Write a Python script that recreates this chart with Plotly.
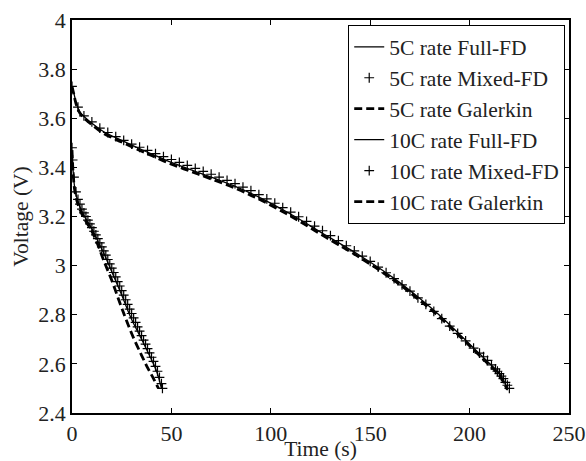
import plotly.graph_objects as go

# ---- 5C rate ----
t5_full = [0, 1, 2, 4, 7, 10, 16, 25, 33, 40, 50, 60, 70, 83, 95, 111, 128, 145, 162, 175, 185, 195, 202, 209, 215, 219]
v5_full = [3.73, 3.70, 3.665, 3.625, 3.60, 3.58, 3.545, 3.51, 3.48, 3.455, 3.42, 3.39, 3.36, 3.32, 3.275, 3.205, 3.122, 3.04, 2.948, 2.866, 2.797, 2.72, 2.665, 2.61, 2.56, 2.50]

t5_mixed = [0, 3, 6, 10, 14, 18, 22, 26, 30, 34, 38, 42, 46, 50, 54, 58, 62, 66, 70, 74, 78, 82, 86, 90, 94, 98,
            102, 106, 110, 114, 118, 122, 126, 130, 134, 138, 142, 146, 150, 154, 158, 162, 166, 170, 174, 178,
            182, 186, 190, 194, 198, 202, 205, 207, 209, 211, 213, 214, 215, 216, 217, 218, 219, 220]
v5_mixed = [3.73, 3.645, 3.61, 3.585, 3.56, 3.542, 3.525, 3.51, 3.495, 3.482, 3.469, 3.456, 3.444, 3.432, 3.42, 3.408,
            3.396, 3.384, 3.372, 3.36, 3.347, 3.334, 3.32, 3.305, 3.289, 3.272, 3.254, 3.236, 3.218, 3.199, 3.18,
            3.161, 3.142, 3.122, 3.102, 3.081, 3.06, 3.039, 3.017, 2.994, 2.971, 2.947, 2.922, 2.896, 2.869, 2.842,
            2.814, 2.784, 2.754, 2.724, 2.694, 2.664, 2.644, 2.629, 2.614, 2.596, 2.58, 2.57, 2.56, 2.55, 2.54,
            2.525, 2.513, 2.50]

t5_gal = [0, 1, 2, 4, 7, 10, 16, 25, 33, 40, 50, 60, 70, 83, 95, 111, 128, 145, 162, 175, 185, 195, 202, 209, 215, 219]
v5_gal = [3.73, 3.695, 3.66, 3.62, 3.594, 3.574, 3.538, 3.503, 3.473, 3.448, 3.413, 3.383, 3.353, 3.312, 3.267, 3.197, 3.114, 3.032, 2.94, 2.858, 2.79, 2.713, 2.658, 2.603, 2.553, 2.495]

# ---- 10C rate ----
t10_full = [0, 0.3, 0.7, 1.5, 3, 5, 7, 10, 13, 16, 20, 25, 29.5, 35, 41, 43, 45]
v10_full = [3.47, 3.42, 3.37, 3.31, 3.26, 3.22, 3.19, 3.15, 3.10, 3.05, 2.975, 2.88, 2.79, 2.70, 2.60, 2.56, 2.50]

t10_mixed = [0, 0.3, 1, 2, 3, 4, 5, 6, 7, 8, 9, 10, 11, 12, 13, 14, 15, 16, 17, 18, 19, 20, 21, 22, 23, 24, 25,
             26, 27, 28, 29, 30, 31, 32, 33, 34, 35, 36, 37, 38, 39, 40, 41, 42, 43, 44, 45, 45.5]
v10_mixed = [3.48, 3.43, 3.36, 3.30, 3.27, 3.25, 3.23, 3.215, 3.20, 3.185, 3.17, 3.155, 3.14, 3.125, 3.11, 3.093,
             3.076, 3.06, 3.043, 3.025, 3.007, 2.99, 2.972, 2.954, 2.935, 2.917, 2.898, 2.88, 2.861, 2.842, 2.823,
             2.805, 2.787, 2.769, 2.751, 2.733, 2.715, 2.697, 2.68, 2.662, 2.645, 2.627, 2.61, 2.59, 2.57, 2.545,
             2.52, 2.50]

t10_gal = [0, 0.7, 1.5, 3, 5, 7, 10, 13, 16, 20, 24, 27, 31, 35, 38, 41, 43.5]
v10_gal = [3.47, 3.36, 3.30, 3.25, 3.21, 3.18, 3.14, 3.085, 3.02, 2.94, 2.85, 2.785, 2.705, 2.635, 2.585, 2.54, 2.50]

font_family = "Liberation Serif, Times New Roman, serif"

fig = go.Figure()

fig.add_trace(go.Scatter(x=t5_full, y=v5_full, mode="lines", name="5C rate Full-FD",
                         line=dict(color="black", width=1.3, shape="spline")))
fig.add_trace(go.Scatter(x=t5_mixed, y=v5_mixed, mode="markers", name="5C rate Mixed-FD",
                         marker=dict(symbol="cross-thin", size=7, color="black",
                                     line=dict(color="black", width=1.2))))
fig.add_trace(go.Scatter(x=t5_gal, y=v5_gal, mode="lines", name="5C rate Galerkin",
                         line=dict(color="black", width=2.8, dash="8px,4px", shape="spline")))
fig.add_trace(go.Scatter(x=t10_full, y=v10_full, mode="lines", name="10C rate Full-FD",
                         line=dict(color="black", width=1.3, shape="spline")))
fig.add_trace(go.Scatter(x=t10_mixed, y=v10_mixed, mode="markers", name="10C rate Mixed-FD",
                         marker=dict(symbol="cross-thin", size=7, color="black",
                                     line=dict(color="black", width=1.2))))
fig.add_trace(go.Scatter(x=t10_gal, y=v10_gal, mode="lines", name="10C rate Galerkin",
                         line=dict(color="black", width=2.8, dash="8px,4px", shape="spline")))

axis_common = dict(
    showgrid=False, zeroline=False, showline=True, linecolor="black", linewidth=1.8,
    mirror="ticks", ticks="inside", ticklen=5, tickwidth=1, tickcolor="black",
    tickfont=dict(family=font_family, size=22, color="#222"),
    automargin=False,
)

fig.update_layout(
    width=586, height=461,
    margin=dict(l=72, r=17, t=20, b=48),
    paper_bgcolor="white", plot_bgcolor="white",
    font=dict(family=font_family, size=22, color="#222"),
    xaxis=dict(range=[0, 250], tickvals=[0, 50, 100, 150, 200, 250],
               title=dict(text="Time (s)", font=dict(family=font_family, size=21.5), standoff=0),
               **axis_common),
    yaxis=dict(range=[2.4, 4], tickvals=[2.4, 2.6, 2.8, 3.0, 3.2, 3.4, 3.6, 3.8, 4.0],
               ticktext=["2.4", "2.6", "2.8", "3", "3.2", "3.4", "3.6", "3.8", "4"],
               title=dict(text="Voltage (V)", font=dict(family=font_family, size=21.5), standoff=4),
               **axis_common),
    legend=dict(x=0.992, y=0.987, xanchor="right", yanchor="top",
                bgcolor="white", bordercolor="black", borderwidth=1.2,
                font=dict(family=font_family, size=21.5, color="#222"),
                tracegroupgap=0, itemwidth=30),
    showlegend=True,
)

fig.write_html("out.html", config={"displayModeBar": False},
               post_script="document.body.style.margin='0';document.body.style.padding='0';")
